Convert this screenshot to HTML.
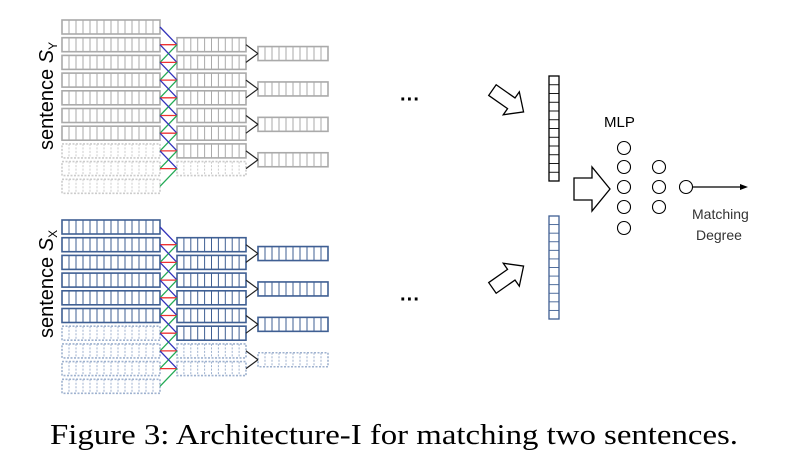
<!DOCTYPE html>
<html><head><meta charset="utf-8"><style>
html,body{margin:0;padding:0;background:#fff;}
svg{display:block;}
</style></head><body>
<svg id="s" width="790" height="468" viewBox="0 0 790 468" xmlns="http://www.w3.org/2000/svg">
<g font-family="Liberation Sans, DejaVu Sans, sans-serif" fill="#000">
<text transform="translate(53,150) rotate(-90)" font-size="20">sentence <tspan font-style="italic">S</tspan><tspan font-size="12" dy="4">Y</tspan></text>
<text transform="translate(53,338) rotate(-90)" font-size="20">sentence <tspan font-style="italic">S</tspan><tspan font-size="12" dy="4">X</tspan></text>
<text x="400" y="106" font-size="20" font-weight="bold">···</text>
<text x="400" y="306" font-size="20" font-weight="bold">···</text>
<text x="604" y="127" font-size="15">MLP</text>
<text x="692" y="219" font-size="14" fill="#333">Matching</text>
<text x="696" y="240" font-size="14" fill="#333">Degree</text>
</g>
<text x="50" y="444" font-family="Liberation Serif, serif" font-size="28" textLength="688" lengthAdjust="spacingAndGlyphs">Figure 3: Architecture-I for matching two sentences.</text>
<g id="d"></g>
</svg>
<script>
var g=document.getElementById('d'),h='';
function box(x,y,w,n,col,dash,sw){
  var hh=14,cw=w/n;
  var da=dash?' stroke-dasharray="2,1.5"':'';
  var c=dash?(col=='#aaa'?'#ccc':'#9fb2cf'):col;
  h+='<rect x="'+x+'" y="'+y+'" width="'+w+'" height="'+hh+'" fill="none" stroke="'+c+'" stroke-width="'+(sw||1.6)+'"'+da+'/>';
  for(var i=1;i<n;i++){var xx=x+i*cw;h+='<line x1="'+xx+'" y1="'+y+'" x2="'+xx+'" y2="'+(y+hh)+'" stroke="'+c+'" stroke-width="1"'+da+'/>';}
}
function line(x1,y1,x2,y2,c,w){h+='<line x1="'+x1+'" y1="'+y1+'" x2="'+x2+'" y2="'+y2+'" stroke="'+c+'" stroke-width="'+(w||1.3)+'"/>';}
function block(oy,col,d1,d2,d3){
  var p=17.7,c1=[];
  for(var i=0;i<10;i++){var y=oy+i*p;c1.push(y+7);box(62,y,98,14,col,i>=d1);}
  var c2=[];
  for(var j=0;j<8;j++){var y=oy+(j+1)*p;c2.push(y+7);box(177,y,69,10,col,j>=d2);}
  for(var j=0;j<8;j++){
    line(160,c1[j],177,c2[j],'#3333bb');
    line(160,c1[j+1],177,c2[j],'#ee3333');
    line(160,c1[j+2],177,c2[j],'#22aa55');
  }
  for(var k=0;k<4;k++){
    var m=(c2[2*k]+c2[2*k+1])/2;
    box(258,m-7,70,10,col,k>=d3);
    line(246,c2[2*k],258,m,'#222',1.2);line(246,c2[2*k+1],258,m,'#222',1.2);
  }
}
block(20,'#aaa',7,7,9);
block(220,'#3f5f93',6,6,3);
function vec(y,len,col){
  var n=12,cw=len/n;
  h+='<rect x="549" y="'+y+'" width="10" height="'+len+'" fill="none" stroke="'+col+'" stroke-width="1.3"/>';
  for(var i=1;i<n;i++){var yy=y+i*cw;line(549,yy,559,yy,col,0.9);}
}
vec(76,105,'#000');vec(216,103,'#3f5f93');
function arrow(cx,cy,ang,L,W,HW,HL){
  var pts=[[-L/2,-W/2],[L/2-HL,-W/2],[L/2-HL,-HW/2],[L/2,0],[L/2-HL,HW/2],[L/2-HL,W/2],[-L/2,W/2]];
  h+='<polygon transform="translate('+cx+','+cy+') rotate('+ang+')" points="'+pts.map(function(p){return p.join(',')}).join(' ')+'" fill="#fff" stroke="#000" stroke-width="1.3"/>';
}
arrow(508,101,35,38,13,28,15);
arrow(508,277,-35,38,13,28,15);
arrow(592,189,0,36,22,44,18);
[148,167,187,207,228].forEach(function(y){h+='<circle cx="624" cy="'+y+'" r="6.5" fill="#fff" stroke="#000" stroke-width="1.1"/>';});
[167,187,207].forEach(function(y){h+='<circle cx="659" cy="'+y+'" r="6.5" fill="#fff" stroke="#000" stroke-width="1.1"/>';});
h+='<circle cx="686" cy="187" r="6.5" fill="#fff" stroke="#000" stroke-width="1.1"/>';
line(692.5,187,742,187,'#000',1.2);
h+='<polygon points="748,187 740,184 740,190" fill="#000"/>';
g.innerHTML=h;
</script>
</body></html>
